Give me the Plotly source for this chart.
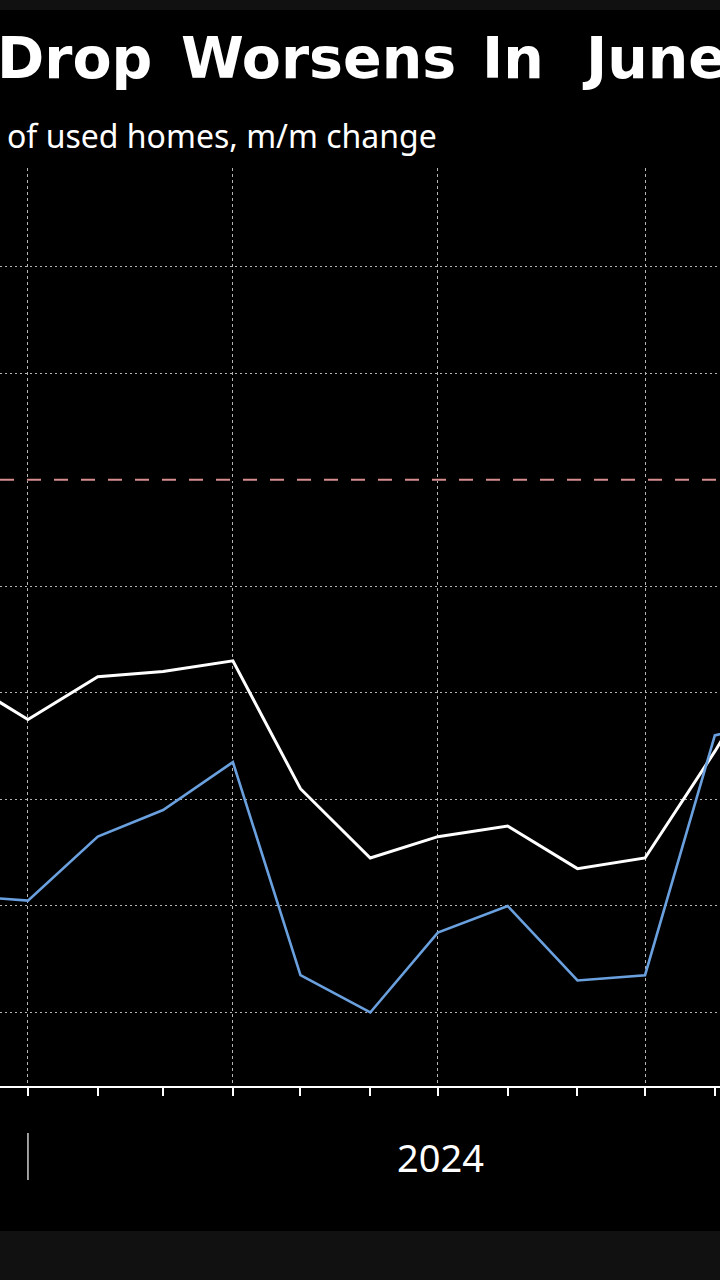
import plotly.graph_objects as go

# ---- data (plotted month positions; values in % m/m) ----
dates = ["2023-12-01", "2024-01-01", "2024-02-01", "2024-03-01", "2024-04-01",
         "2024-05-01", "2024-06-01", "2024-07-01", "2024-08-01", "2024-09-01",
         "2024-10-01", "2024-11-01", "2024-12-01"]
new_homes = [-0.37, -0.45, -0.37, -0.36, -0.34, -0.58, -0.71, -0.67, -0.65,
             -0.73, -0.71, -0.51, -0.30]
used_homes = [-0.78, -0.79, -0.67, -0.62, -0.53, -0.93, -1.00, -0.85, -0.80,
              -0.94, -0.93, -0.48, -0.45]

title_words = ["Drop", "Worsens", "In", "June"]
subtitle = "of used homes, m/m change"
year_label = "2024"

W, H = 720, 1280
T, B = 168, 194          # plot area top / bottom margins (px)
PLOT_H = H - T - B


def py(px):
    """pixel row -> paper y"""
    return (H - B - px) / PLOT_H


fig = go.Figure()
fig.add_trace(go.Scatter(x=dates, y=new_homes, mode="lines", name="New homes",
                         line=dict(color="#ffffff", width=3), showlegend=False))
fig.add_trace(go.Scatter(x=dates, y=used_homes, mode="lines", name="Used homes",
                         line=dict(color="#6aa0de", width=2.6), showlegend=False))

grid_col = "#b4b4b4"
fig.update_xaxes(
    type="date",
    range=["2023-12-19 14:00", "2024-11-03 07:00"],
    tick0="2024-01-01", dtick="M3",
    ticks="outside", ticklen=8, tickwidth=1.5, tickcolor="#ffffff",
    showticklabels=False,
    showgrid=True, gridcolor=grid_col, gridwidth=1, griddash="3px,3px",
    showline=True, linecolor="#ffffff", linewidth=2,
    zeroline=False,
    minor=dict(dtick="M1", tick0="2024-01-01", ticks="outside", ticklen=8,
               tickwidth=1.5, tickcolor="#ffffff", showgrid=False),
)
fig.update_yaxes(
    range=[-1.138, 0.585],
    tick0=0, dtick=0.2,
    showticklabels=False, ticks="",
    showgrid=True, gridcolor=grid_col, gridwidth=1, griddash="2px,3px",
    zeroline=True, zerolinecolor="#000000", zerolinewidth=2,
    showline=False,
)

shapes = [
    # top dark strip
    dict(type="rect", xref="paper", yref="paper", x0=-0.1, x1=1.1,
         y0=py(10), y1=py(-20), fillcolor="#111111", line=dict(width=0), layer="below"),
    # bottom dark strip
    dict(type="rect", xref="paper", yref="paper", x0=-0.1, x1=1.1,
         y0=py(1231), y1=py(1300), fillcolor="#111111", line=dict(width=0), layer="below"),
    # zero line
    dict(type="line", xref="paper", yref="y", x0=0, x1=1, y0=0, y1=0,
         line=dict(color="#d88e8e", width=2, dash="14px,13px"), layer="above"),
    # year separator
    dict(type="line", xref="x", yref="paper", x0="2024-01-01", x1="2024-01-01",
         y0=py(1133), y1=py(1180), line=dict(color="#d0d0d0", width=1.5)),
]

title_px = [-3, 181, 482, 582]
annotations = []
for word, xp in zip(title_words, title_px):
    annotations.append(dict(
        text=word, xref="paper", yref="paper", x=xp / W, y=py(58),
        xanchor="left", yanchor="middle", showarrow=False,
        borderpad=0, borderwidth=0,
        font=dict(family="DejaVu Sans", size=57, color="#ffffff", weight="bold")))
annotations.append(dict(
    text=subtitle, xref="paper", yref="paper", x=7 / W, y=py(135.7),
    xanchor="left", yanchor="middle", showarrow=False, borderpad=0, borderwidth=0,
    font=dict(family="Noto Sans", size=32, color="#ffffff")))
annotations.append(dict(
    text=year_label, xref="x", yref="paper", x="2024-07-02", y=py(1157.3),
    xanchor="center", yanchor="middle", showarrow=False, borderpad=0, borderwidth=0,
    font=dict(family="Noto Sans", size=38, color="#ffffff")))

fig.update_layout(
    width=W, height=H,
    margin=dict(l=0, r=0, t=T, b=B, pad=0),
    paper_bgcolor="#000000", plot_bgcolor="#000000",
    shapes=shapes, annotations=annotations,
    showlegend=False,
)

fig.write_html("out.html",
               config={"displayModeBar": False},
               post_script=["document.body.style.margin='0';"
                            "document.body.style.background='#000';"])
